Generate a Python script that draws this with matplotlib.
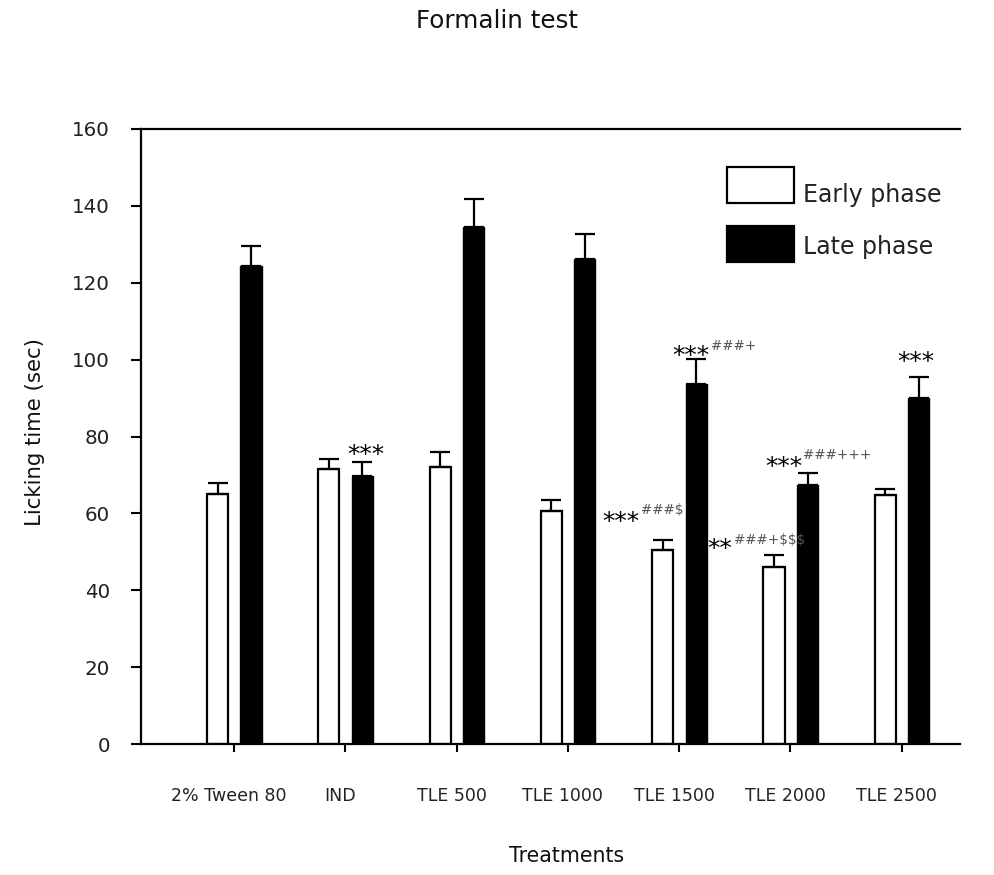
import matplotlib
matplotlib.use("Agg")
import matplotlib.pyplot as plt
import matplotlib.transforms as mtransforms
import numpy as np
from matplotlib.patches import Rectangle

# ---- data -------------------------------------------------------------
treatments = ["2% Tween 80", "IND", "TLE 500", "TLE 1000",
              "TLE 1500", "TLE 2000", "TLE 2500"]
early_mean = [65.0, 71.5, 72.0, 60.5, 50.5, 46.0, 64.9]
early_sem = [3.0, 2.6, 4.0, 3.0, 2.6, 3.2, 1.5]
late_mean = [124.3, 69.7, 134.6, 126.3, 93.7, 67.4, 89.9]
late_sem = [5.3, 3.7, 7.3, 6.5, 6.5, 3.1, 5.5]
y_ticks = [0, 20, 40, 60, 80, 100, 120, 140, 160]
phase_labels = ["Early phase", "Late phase"]

# significance marks: (group, phase, stars, superscript, dx px, star dy px, sup dy px)
marks = [
    (1, "late", "***", "", 22.5, 14, 0),
    (4, "late", "***", "###+", 13.5, 10, 14),
    (4, "early", "***", "###$", -23, 25, 31),
    (5, "early", "**", "###+$$$", -41.5, 13, 16),
    (5, "late", "***", "###+++", -5.5, 13, 19),
    (6, "late", "***", "", 16, 22, 0),
]

W, H = 994, 875

# ---- figure -----------------------------------------------------------
fig = plt.figure(figsize=(W / 100, H / 100), dpi=100)
ax = fig.add_axes([141 / W, 131 / H, 819 / W, 615 / H])

x = np.arange(len(treatments))
off_e, off_l, width = -0.148, 0.153, 0.19

ax.bar(x + off_e, early_mean, width, color="white", edgecolor="black",
       linewidth=1.6, zorder=2)
ax.bar(x + off_l, late_mean, width, color="black", edgecolor="black",
       linewidth=1.0, zorder=2)

zeros = [0] * len(x)
ax.errorbar(x + off_e, early_mean, yerr=[zeros, early_sem], fmt="none",
            ecolor="black", elinewidth=1.6, capsize=7, capthick=1.6, zorder=3)
ax.errorbar(x + off_l, late_mean, yerr=[zeros, late_sem], fmt="none",
            ecolor="black", elinewidth=1.6, capsize=7, capthick=1.6, zorder=3)

ax.set_xlim(-0.8356, 6.523)
ax.set_ylim(0, 160)
ax.set_yticks(y_ticks)
ax.set_xticks(x)
ax.set_xticklabels(treatments, fontsize=12.5, color="#222222")
ax.tick_params(axis="y", direction="out", length=7.2, width=1.5,
               pad=15, labelsize=14.3, labelcolor="#222222")
ax.tick_params(axis="x", direction="out", length=5.8, width=1.5, pad=25)

# category labels sit a little left of their ticks
shift = mtransforms.ScaledTranslation(-5 / 100, 0, fig.dpi_scale_trans)
for lbl in ax.get_xticklabels():
    lbl.set_transform(lbl.get_transform() + shift)

for side in ("left", "bottom", "top"):
    ax.spines[side].set_linewidth(1.6)
ax.spines["right"].set_visible(False)

# significance annotations
for g, phase, stars, sup, dx, dys, dysup in marks:
    if phase == "early":
        bx, top = x[g] + off_e, early_mean[g] + early_sem[g]
    else:
        bx, top = x[g] + off_l, late_mean[g] + late_sem[g]
    # '*' glyph centre sits about 14 px above its baseline at this size
    ax.annotate(stars, xy=(bx, top), xytext=(dx, dys - 14),
                textcoords="offset pixels", ha="right", va="baseline",
                fontsize=18, color="black", zorder=4)
    if sup:
        ax.annotate(sup, xy=(bx, top), xytext=(dx + 1, dysup - 5),
                    textcoords="offset pixels", ha="left", va="baseline",
                    fontsize=9.8, color="#555555", zorder=4)

# legend key: boxes and labels placed in figure pixels
key_boxes = [(727, 167, "white"), (727, 226, "black")]
key_baselines = [202, 254]
for (kx, ky, fc), base, label in zip(key_boxes, key_baselines, phase_labels):
    fig.patches.append(Rectangle((kx / W, 1 - (ky + 36) / H), 67 / W, 36 / H,
                                 transform=fig.transFigure, facecolor=fc,
                                 edgecolor="black", linewidth=1.6))
    fig.text(803 / W, 1 - base / H, label, ha="left", va="baseline",
             fontsize=17, color="#222222")

fig.text(497 / W, 1 - 21 / H, "Formalin test", ha="center", va="center",
         fontsize=17.7, color="#111111")
fig.text(567 / W, 1 - 856 / H, "Treatments", ha="center", va="center",
         fontsize=14.8, color="#111111")
fig.text(35 / W, 1 - 432 / H, "Licking time (sec)", ha="center",
         va="center", rotation=90, fontsize=15.3, color="#111111")

fig.savefig("out.png", dpi=100)
